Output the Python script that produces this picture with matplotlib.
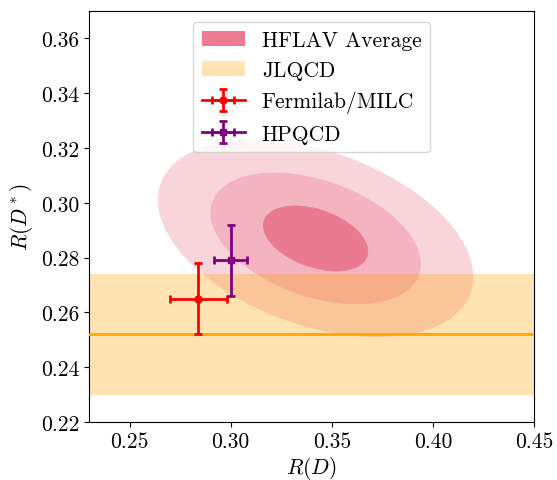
import numpy as np
import matplotlib
matplotlib.use("Agg")
import matplotlib.pyplot as plt
from matplotlib.patches import Ellipse, Patch

plt.rcParams["font.family"] = "serif"
plt.rcParams["font.serif"] = ["cmr10"]
plt.rcParams["mathtext.fontset"] = "cm"
plt.rcParams["axes.formatter.use_mathtext"] = True
plt.rcParams["font.size"] = 15.5

# HFLAV average: R(D), R(D*), errors, correlation
hflav_mean = [0.342, 0.287]
hflav_err = [0.026, 0.012]
hflav_rho = -0.39
hflav_sigmas = [3, 2, 1]
hflav_alphas = [0.25, 0.26, 0.6]

# JLQCD R(D*) only
jlqcd_rds = 0.252
jlqcd_err = 0.022

# lattice points
fnal_x, fnal_xerr = 0.284, 0.014
fnal_y, fnal_yerr = 0.265, 0.013
hpqcd_x, hpqcd_xerr = 0.300, 0.008
hpqcd_y, hpqcd_yerr = 0.279, 0.013

pink = "#e55573"

fig = plt.figure(figsize=(5.57, 4.81), dpi=100)
ax = fig.add_axes([0.160, 0.1206, 0.7987, 0.8544])

# ellipses from covariance
cov = np.array([[hflav_err[0]**2, hflav_rho*hflav_err[0]*hflav_err[1]],
                [hflav_rho*hflav_err[0]*hflav_err[1], hflav_err[1]**2]])
vals, vecs = np.linalg.eigh(cov)
ang = np.degrees(np.arctan2(vecs[1, 1], vecs[0, 1]))
for n, a in zip(hflav_sigmas, hflav_alphas):
    e = Ellipse(hflav_mean, 2*n*np.sqrt(vals[1]), 2*n*np.sqrt(vals[0]), angle=ang,
                facecolor=pink, edgecolor="none", alpha=a, zorder=1)
    ax.add_patch(e)

ax.axhspan(jlqcd_rds - jlqcd_err, jlqcd_rds + jlqcd_err, color="orange", alpha=0.3, lw=0, zorder=2)
ax.axhline(jlqcd_rds, color="orange", lw=2, zorder=3)

# '-' style so the legend handle gets the full line
ax.errorbar(fnal_x, fnal_y, xerr=fnal_xerr, yerr=fnal_yerr, fmt="-o", color="red",
            ms=5, lw=2, capsize=3, elinewidth=2, capthick=2, zorder=4, label="Fermilab/MILC")
ax.errorbar(hpqcd_x, hpqcd_y, xerr=hpqcd_xerr, yerr=hpqcd_yerr, fmt="-s", color="purple",
            ms=5, lw=2, capsize=3, elinewidth=2, capthick=2, zorder=4, label="HPQCD")

ax.set_xlim(0.23, 0.45)
ax.set_ylim(0.22, 0.37)
ax.set_xticks([0.25, 0.30, 0.35, 0.40, 0.45])
ax.set_yticks([0.22, 0.24, 0.26, 0.28, 0.30, 0.32, 0.34, 0.36])
ax.xaxis.set_major_formatter(matplotlib.ticker.FormatStrFormatter("%.2f"))
ax.yaxis.set_major_formatter(matplotlib.ticker.FormatStrFormatter("%.2f"))
ax.set_xlabel(r"$R(D)$", labelpad=2)
ax.set_ylabel(r"$R(D^*)$")

handles, labels = ax.get_legend_handles_labels()
h = [Patch(facecolor="#ec7b91", label="HFLAV Average"),
     Patch(facecolor="orange", alpha=0.3, label="JLQCD")] + handles
ax.legend(handles=h, loc="upper center")

fig.savefig("out.png", dpi=100)
